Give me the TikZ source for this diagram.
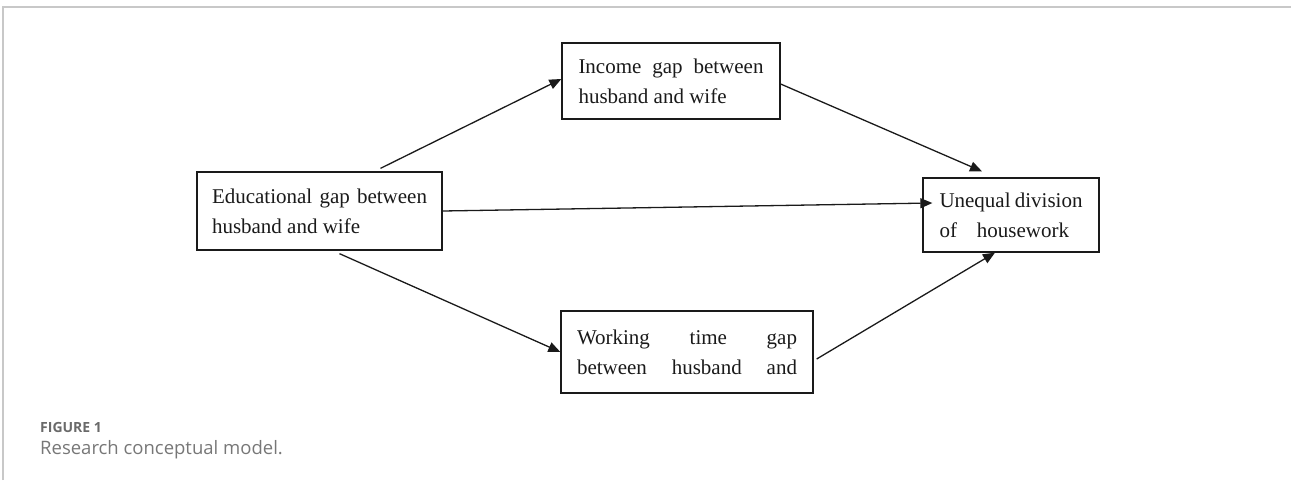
\documentclass[tikz,border=0pt]{standalone}
\usepackage{fontspec}
\setmainfont{Liberation Serif}
\newfontfamily\capfont{Open Sans}
\usetikzlibrary{arrows.meta}
\definecolor{frameline}{HTML}{C8C8C8}
\definecolor{captxt}{HTML}{777777}
\definecolor{capbold}{HTML}{6A6A6A}
\definecolor{ink}{HTML}{1A1A1A}
\tikzset{
  box/.style={draw=ink, line width=1.3pt, inner sep=0pt, fill=white, text=ink,
    font=\fontsize{21}{30}\selectfont},
  link/.style={draw=ink, line width=1.3pt, -{Triangle[length=12pt,width=10pt]}},
  frame/.style={draw=frameline, line width=1.5pt},
}
\begin{document}
\begin{tikzpicture}[x=1pt, y=-1pt]
\useasboundingbox (0,0) rectangle (1291,483);
% page frame
\coordinate (fa) at (3,480);
\coordinate (fb) at (3,7);
\coordinate (fc) at (1291,7);
\draw[frame] (fa) -- (fb) -- (fc);

% boxes
\node[box, minimum width=245pt, minimum height=78pt] (edu) at (319.5,211)
  {\parbox{215pt}{Educational\hfill gap\hfill between\\husband and wife}};
\node[box, minimum width=218pt, minimum height=76pt] (inc) at (671,81)
  {\parbox{185pt}{Income\hfill gap\hfill between\\husband and wife}};
\node[box, minimum width=252pt, minimum height=82pt] (work) at (687,352)
  {\parbox{220pt}{Working\hfill time\hfill gap\\between\hfill husband\hfill and}};
\node[box, minimum width=176pt, minimum height=74pt] (uneq) at (1011,215)
  {\parbox{143pt}{Unequal division\\of\hspace{20pt}housework}};

% paths
\draw[link] ([xshift=61pt,yshift=3pt]edu.north) -- ([yshift=2pt]inc.west);
\draw[link] ([xshift=20pt,yshift=-3pt]edu.south) -- (work.west);
\draw[link] ([yshift=-3pt]inc.east) -- ([xshift=-29pt,yshift=6pt]uneq.north);
\draw[link] ([xshift=3pt,yshift=-7pt]work.east) -- ([xshift=-16pt]uneq.south);
\draw[link] (edu.east) -- ([xshift=10pt,yshift=12pt]uneq.west);

% caption
\node[anchor=base west, inner sep=0pt, text=capbold, font=\capfont\bfseries\fontsize{14}{16}\selectfont]
  (fig) at (40,432) {FIGURE 1};
\node[anchor=base west, inner sep=0pt, text=captxt, font=\capfont\fontsize{18.5}{20}\selectfont]
  (cap) at (40,454) {Research conceptual model.};
\end{tikzpicture}
\end{document}
